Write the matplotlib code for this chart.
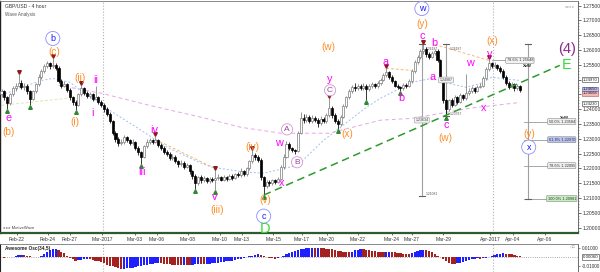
import matplotlib
matplotlib.use('Agg')
import matplotlib.pyplot as plt
import matplotlib.transforms as mtransforms
from matplotlib.patches import Rectangle
import numpy as np

plt.rcParams['font.family'] = ['Liberation Sans', 'DejaVu Sans']

# ---------------- data ----------------
first_open = 1.2450
closes = [1.2460, 1.2440, 1.2420, 1.2450, 1.2470, 1.2480, 1.2490, 1.2475, 1.2480, 1.2460,
          1.2435, 1.2460, 1.2485, 1.2510, 1.2530, 1.2545, 1.2555, 1.2545, 1.2550, 1.2540,
          1.2495, 1.2480, 1.2485, 1.2465, 1.2440, 1.2425, 1.2415, 1.2450, 1.2470, 1.2455,
          1.2445, 1.2450, 1.2435, 1.2440, 1.2425, 1.2415, 1.2400, 1.2385, 1.2360, 1.2320,
          1.2300, 1.2285, 1.2290, 1.2305, 1.2295, 1.2285, 1.2290, 1.2270, 1.2255, 1.2240,
          1.2275, 1.2290, 1.2295, 1.2290, 1.2295, 1.2280, 1.2270, 1.2255, 1.2250, 1.2235,
          1.2240, 1.2225, 1.2215, 1.2220, 1.2205, 1.2210, 1.2190, 1.2175, 1.2150, 1.2170,
          1.2160, 1.2168, 1.2158, 1.2165, 1.2160, 1.2168, 1.2172, 1.2162, 1.2170, 1.2165,
          1.2175, 1.2168, 1.2180, 1.2178, 1.2190, 1.2180, 1.2200, 1.2225, 1.2245, 1.2238,
          1.2230, 1.2170, 1.2140, 1.2155, 1.2150, 1.2160, 1.2155, 1.2165, 1.2205, 1.2240,
          1.2282, 1.2268, 1.2262, 1.2258, 1.2320, 1.2370, 1.2365, 1.2375, 1.2360, 1.2372,
          1.2365, 1.2355, 1.2368, 1.2360, 1.2380, 1.2405, 1.2380, 1.2360, 1.2350, 1.2375,
          1.2410, 1.2440, 1.2460, 1.2475, 1.2470, 1.2480, 1.2472, 1.2480, 1.2468, 1.2478,
          1.2485, 1.2478, 1.2488, 1.2500, 1.2515, 1.2525, 1.2510, 1.2495, 1.2480, 1.2475,
          1.2470, 1.2482, 1.2478, 1.2495, 1.2530, 1.2560, 1.2575, 1.2595, 1.2605, 1.2585,
          1.2578, 1.2590, 1.2598, 1.2565, 1.2500, 1.2430, 1.2400, 1.2430, 1.2415, 1.2440,
          1.2425, 1.2448, 1.2438, 1.2455, 1.2462, 1.2470, 1.2462, 1.2475, 1.2480, 1.2505,
          1.2535, 1.2555, 1.2545, 1.2550, 1.2540, 1.2530, 1.2510, 1.2490, 1.2475, 1.2485,
          1.2470, 1.2478, 1.2465]
highs = [1.2468, 1.2466, 1.2446, 1.2455, 1.2478, 1.2490, 1.2518, 1.2497, 1.2488, 1.2485,
         1.2464, 1.2466, 1.2490, 1.2518, 1.2536, 1.2552, 1.2563, 1.2560, 1.2572, 1.2556,
         1.2545, 1.2502, 1.2494, 1.2490, 1.2470, 1.2446, 1.2430, 1.2456, 1.2482, 1.2474,
         1.2460, 1.2458, 1.2454, 1.2480, 1.2446, 1.2430, 1.2420, 1.2406, 1.2390, 1.2365,
         1.2326, 1.2305, 1.2298, 1.2312, 1.2310, 1.2300, 1.2298, 1.2294, 1.2276, 1.2260,
         1.2280, 1.2298, 1.2302, 1.2300, 1.2308, 1.2300, 1.2286, 1.2275, 1.2262, 1.2256,
         1.2248, 1.2245, 1.2230, 1.2228, 1.2226, 1.2218, 1.2214, 1.2195, 1.2180, 1.2176,
         1.2178, 1.2175, 1.2172, 1.2172, 1.2170, 1.2195, 1.2180, 1.2176, 1.2177, 1.2175,
         1.2182, 1.2180, 1.2186, 1.2188, 1.2200, 1.2195, 1.2206, 1.2230, 1.2262, 1.2252,
         1.2244, 1.2234, 1.2176, 1.2162, 1.2160, 1.2166, 1.2165, 1.2172, 1.2210, 1.2248,
         1.2292, 1.2288, 1.2274, 1.2266, 1.2326, 1.2392, 1.2385, 1.2384, 1.2380, 1.2382,
         1.2378, 1.2370, 1.2376, 1.2374, 1.2388, 1.2438, 1.2410, 1.2386, 1.2366, 1.2380,
         1.2416, 1.2446, 1.2468, 1.2482, 1.2488, 1.2486, 1.2485, 1.2488, 1.2484, 1.2484,
         1.2492, 1.2490, 1.2494, 1.2506, 1.2522, 1.2540, 1.2530, 1.2514, 1.2500, 1.2486,
         1.2480, 1.2488, 1.2490, 1.2502, 1.2536, 1.2566, 1.2584, 1.2602, 1.2619, 1.2610,
         1.2592, 1.2596, 1.2605, 1.2602, 1.2570, 1.2505, 1.2436, 1.2436, 1.2438, 1.2448,
         1.2446, 1.2455, 1.2452, 1.2520, 1.2470, 1.2478, 1.2476, 1.2482, 1.2488, 1.2512,
         1.2542, 1.2568, 1.2560, 1.2558, 1.2554, 1.2546, 1.2535, 1.2515, 1.2495, 1.2492,
         1.2490, 1.2485, 1.2482]
lows = [1.2442, 1.2432, 1.2400, 1.2414, 1.2445, 1.2463, 1.2474, 1.2468, 1.2466, 1.2452,
        1.2415, 1.2430, 1.2455, 1.2480, 1.2502, 1.2522, 1.2538, 1.2536, 1.2540, 1.2532,
        1.2488, 1.2472, 1.2474, 1.2458, 1.2432, 1.2415, 1.2397, 1.2410, 1.2444, 1.2448,
        1.2438, 1.2437, 1.2428, 1.2430, 1.2418, 1.2408, 1.2392, 1.2378, 1.2352, 1.2312,
        1.2290, 1.2276, 1.2278, 1.2284, 1.2288, 1.2278, 1.2280, 1.2262, 1.2246, 1.2215,
        1.2235, 1.2270, 1.2284, 1.2282, 1.2285, 1.2274, 1.2262, 1.2248, 1.2242, 1.2228,
        1.2230, 1.2218, 1.2206, 1.2208, 1.2198, 1.2200, 1.2182, 1.2166, 1.2130, 1.2145,
        1.2152, 1.2155, 1.2150, 1.2152, 1.2153, 1.2128, 1.2162, 1.2156, 1.2158, 1.2158,
        1.2160, 1.2162, 1.2164, 1.2170, 1.2172, 1.2174, 1.2176, 1.2195, 1.2220, 1.2230,
        1.2222, 1.2162, 1.2110, 1.2135, 1.2142, 1.2145, 1.2148, 1.2150, 1.2160, 1.2198,
        1.2235, 1.2262, 1.2255, 1.2250, 1.2254, 1.2315, 1.2355, 1.2358, 1.2352, 1.2354,
        1.2356, 1.2340, 1.2348, 1.2352, 1.2355, 1.2375, 1.2372, 1.2352, 1.2333, 1.2345,
        1.2370, 1.2404, 1.2434, 1.2454, 1.2462, 1.2464, 1.2465, 1.2466, 1.2432, 1.2462,
        1.2472, 1.2470, 1.2472, 1.2482, 1.2494, 1.2508, 1.2502, 1.2488, 1.2474, 1.2468,
        1.2462, 1.2466, 1.2470, 1.2474, 1.2490, 1.2524, 1.2552, 1.2568, 1.2588, 1.2578,
        1.2570, 1.2572, 1.2584, 1.2558, 1.2492, 1.2420, 1.2379, 1.2394, 1.2408, 1.2410,
        1.2418, 1.2420, 1.2430, 1.2432, 1.2448, 1.2455, 1.2455, 1.2458, 1.2470, 1.2475,
        1.2500, 1.2528, 1.2538, 1.2540, 1.2532, 1.2522, 1.2502, 1.2482, 1.2468, 1.2470,
        1.2462, 1.2465, 1.2458]

ao = [-0.0005, -0.0006, -0.0004, -0.0002,
      0.0005, 0.0012, 0.0018, 0.0020, 0.0017, 0.0013,
      0.0008, 0.0004, 0.0002, 0.0001,
      0.0015, 0.0035, 0.0055, 0.0072, 0.0085, 0.0090,
      0.0080, 0.0060, 0.0040, 0.0015,
      -0.0010, -0.0028, -0.0040, -0.0038,
      -0.0030, -0.0022, -0.0020, -0.0025,
      -0.0032, -0.0040, -0.0050, -0.0060, -0.0072, -0.0085, -0.0095, -0.0105, -0.0115, -0.0125, -0.0132,
      -0.0130, -0.0126, -0.0122, -0.0118, -0.0112, -0.0105, -0.0098, -0.0092, -0.0085, -0.0080, -0.0075, -0.0070, -0.0068,
      -0.0072, -0.0076, -0.0080, -0.0083, -0.0085, -0.0087, -0.0088, -0.0089, -0.0088, -0.0090, -0.0091,
      -0.0086, -0.0080, -0.0076,
      -0.0079, -0.0082, -0.0080,
      -0.0076, -0.0072, -0.0068, -0.0064, -0.0060, -0.0055, -0.0050, -0.0046, -0.0040, -0.0034, -0.0028, -0.0020, -0.0012,
      -0.0004, 0.0006, 0.0016, 0.0026, 0.0032,
      0.0025, 0.0012, 0.0000, -0.0010, -0.0016, -0.0020,
      -0.0012, -0.0002, 0.0012, 0.0028, 0.0042, 0.0055, 0.0066, 0.0075, 0.0084,
      0.0090, 0.0095, 0.0098, 0.0100, 0.0098, 0.0100, 0.0099, 0.0096, 0.0094, 0.0090,
      0.0085, 0.0078, 0.0070, 0.0062, 0.0056, 0.0052, 0.0050,
      0.0060, 0.0072, 0.0082, 0.0088,
      0.0085, 0.0080, 0.0074, 0.0068, 0.0062, 0.0056, 0.0052, 0.0050,
      0.0054, 0.0058, 0.0055, 0.0050,
      0.0045, 0.0040, 0.0036, 0.0032, 0.0030,
      0.0040, 0.0055, 0.0068, 0.0078, 0.0082,
      0.0076, 0.0064, 0.0050, 0.0034, 0.0016,
      -0.0004, -0.0025, -0.0045, -0.0062, -0.0074, -0.0080,
      -0.0072, -0.0062, -0.0052, -0.0042, -0.0034, -0.0026,
      -0.0020, -0.0016, -0.0018, -0.0012, -0.0008, -0.0004,
      0.0008, 0.0020, 0.0030, 0.0036, 0.0040,
      0.0038, 0.0034, 0.0028, 0.0020, 0.0012, 0.0006]

# moving averages (sampled at candle indices)
ma_fast_idx = [0, 6, 14, 18, 24, 29, 38, 49, 58, 70, 74, 86, 92, 104, 113, 128, 133, 144, 151, 157, 163, 168, 172, 182]
ma_fast_val = [1.2447, 1.2470, 1.2497, 1.2504, 1.2491, 1.2454, 1.2396, 1.2329, 1.2272, 1.2218, 1.2204, 1.2187,
               1.2184, 1.2211, 1.2295, 1.2406, 1.2437, 1.2491, 1.2504, 1.2487, 1.2474, 1.2487, 1.2508, 1.2497]
ma_slow_idx = [20, 35, 52, 70, 84, 98, 115, 133, 144, 164, 182]
ma_slow_val = [1.2481, 1.2454, 1.2413, 1.2373, 1.2339, 1.2319, 1.2319, 1.2363, 1.2369, 1.2403, 1.2423]

# price axis labels (two are hidden behind the value boxes in the reference)
price_ticks = [1.200, 1.205, 1.210, 1.215, 1.220, 1.225, 1.230, 1.235, 1.240, 1.245, 1.250,
               1.255, 1.260, 1.265, 1.270, 1.275]
hidden_price_labels = [1.245, 1.250]

# date axis
date_ticks = [5.4, 16.3, 24.0, 35.3, 46.8, 54.6, 65.4, 76.7, 84.4, 95.3, 105.4, 114.2, 125.1, 137.0,
              144.0, 155.0, 171.4, 179.5, 190.7]
date_labels = ['Feb-22', 'Feb-24', 'Feb-27', 'Mar-2017', 'Mar-03', 'Mar-06', 'Mar-08', 'Mar-10', 'Mar-13',
               'Mar-15', 'Mar-17', 'Mar-20', 'Mar-22', 'Mar-24', 'Mar-27', 'Mar-29', 'Apr-2017', 'Apr-04', 'Apr-06']
month_starts = [35.5, 172.5]

# wave labels (text, candle index, price)
blue_circled = [('b', 18.0, 1.2639), ('w', 147.5, 1.2740), ('c', 92.0, 1.2039), ('x', 185.0, 1.2272)]
orange_labels = [('(c)', 18.4, 1.2592), ('(b)', 2.6, 1.2322), ('(ii)', 27.5, 1.2504), ('(i)', 25.8, 1.2356),
                 ('(iii)', 75.6, 1.2059), ('(iv)', 88.2, 1.2272), ('(v)', 92.5, 1.2093), ('(w)', 114.6, 1.2609),
                 ('(x)', 121.2, 1.2315), ('(y)', 147.5, 1.2689), ('(w)', 155.6, 1.2302), ('(x)', 172.1, 1.2632),
                 ('(y)', 185.1, 1.2315)]
magenta_labels = [('e', 2.6, 1.2369), ('ii', 33.2, 1.2497), ('i', 32.1, 1.2386), ('iii', 49.3, 1.2187),
                  ('iv', 53.5, 1.2329), ('v', 74.9, 1.2103), ('w', 97.4, 1.2285), ('x', 98.4, 1.2150),
                  ('y', 115.3, 1.2501), ('a', 134.9, 1.2561), ('b', 140.2, 1.2437), ('c', 147.5, 1.2646),
                  ('b', 151.8, 1.2622), ('a', 151.1, 1.2508), ('c', 156.0, 1.2346), ('w', 164.4, 1.2555),
                  ('y', 171.4, 1.2588), ('x', 169.3, 1.2403)]
purple_circled = [('A', 100.2, 1.2332), ('B', 103.7, 1.2221), ('C', 115.3, 1.2464)]
big_labels = [('(4)', 198.4, 1.2602, '#8b2a8b'), ('E', 198.4, 1.2550, '#33dd33'), ('D', 92.5, 1.1996, '#33dd33')]

low_marks = [2, 10, 26, 49, 68, 75, 92, 118, 128, 140, 156]
high_marks = [6, 18, 28, 54, 75, 88, 115, 135, 148, 171]

# trend line and guide lines (candle index, price)
trend_x = [92, 195.9]
trend_y = [1.2110, 1.2548]
guides_orange = [((54, 1.2298), (74, 1.2204)), ((135, 1.2538), (144, 1.2531)), ((152, 1.2619), (171, 1.2565))]
guide_pale = ((0, 1.2413), (23, 1.2437))

# measurement brackets
fib_x = 184.7
fib_top = 1.26187
fib_bottom = 1.20981
fib_levels = [0.5, 0.618, 0.786, 1.0]
fib_colors = ['#eeeeee', '#b9c3f2', '#eeeeee', '#c6efc0']
fib_box_x = 196.6
measure_lines = [(147.5, 1.26187, 1.21081), (156.0, 1.26187, 1.23787)]
retr_label = ('78.6% 1.25648', 172.1, 181.9, 1.2565)

# ---------------- figure ----------------
fig = plt.figure(figsize=(6.0, 2.72), dpi=100)
ax = fig.add_axes([0.0, 1 - 233 / 272, 578 / 600, 233 / 272 - 0.002])
osc = fig.add_axes([0.0, 0.0, 578 / 600, 28 / 272], sharex=ax)

opens = [first_open] + closes[:-1]

ax.set_xlim(-0.53, 202.3)
ax.set_ylim(1.1982, 1.2767)

# guide lines (behind candles)
ax.plot(ma_slow_idx, ma_slow_val, color='#e6a8e6', lw=0.7, ls=(0, (4, 3)), zorder=1)
ax.plot(ma_fast_idx, ma_fast_val, color='#9ec0f0', lw=0.7, ls=(0, (2, 2)), zorder=1)
for (a, b) in guides_orange:
    ax.plot([a[0], b[0]], [a[1], b[1]], color='#f5b87a', lw=0.7, ls=(0, (3, 2)), zorder=1)
ax.plot([guide_pale[0][0], guide_pale[1][0]], [guide_pale[0][1], guide_pale[1][1]],
        color='#e0e6b0', lw=0.7, ls=(0, (3, 2)), zorder=1)
for m in month_starts:
    ax.axvline(m, color='#b0b0b0', ls=':', lw=0.8, zorder=0)
    osc.axvline(m, color='#b0b0b0', ls=':', lw=0.8, zorder=0)

# measurement lines
for (mx, top, bot) in measure_lines:
    ax.plot([mx, mx], [bot, top], color='#a0a0a0', lw=0.8, zorder=2)
    ax.plot([mx - 1.0, mx + 1.0], [top, top], color='#606060', lw=0.8, zorder=2)
    ax.plot([mx - 1.0, mx + 1.0], [bot, bot], color='#606060', lw=0.8, zorder=2)
    ax.text(mx + 1.3, top - 0.0016, f'{top:.5f}', fontsize=2.4, color='#555555', va='center', ha='left')
    ax.text(mx + 1.3, bot + 0.0004, f'{bot:.5f}', fontsize=2.4, color='#555555', va='center', ha='left')
    ax.text(mx, (top + bot) / 2, f'{(top + bot) / 2:.5f}', fontsize=2.6, color='#444444', ha='center',
            va='center', zorder=6, bbox=dict(boxstyle='round,pad=0.25', fc='#f2f2f2', ec='#999999', lw=0.4))

# fib bracket
ax.plot([fib_x, fib_x], [fib_bottom, fib_top], color='#a0a0a0', lw=0.8, zorder=2)
ax.plot([fib_x - 1.0, fib_x + 1.0], [fib_top, fib_top], color='#606060', lw=0.8, zorder=2)
for lvl, fc in zip(fib_levels, fib_colors):
    p = fib_top - lvl * (fib_top - fib_bottom)
    ax.plot([fib_x - 1.5, fib_box_x - 4.5], [p, p], color='#999999', lw=0.6, zorder=2)
    ax.text(fib_box_x, p, f'{lvl * 100:.1f}% {p:.5f}', fontsize=2.8, color='#333333', ha='center',
            va='center', zorder=6, bbox=dict(boxstyle='round,pad=0.25', fc=fc, ec='#888888', lw=0.4))
ax.plot([fib_x - 1.0, fib_x + 1.0], [fib_bottom, fib_bottom], color='#606060', lw=0.8, zorder=2)
p50 = fib_top - 0.5 * (fib_top - fib_bottom)
ax.text(fib_box_x + 1.0, p50 + 0.0013, 'XvW', fontsize=3.0, color='#222222', ha='center', va='center',
        fontweight='bold')
rt, rx0, rx1, rp = retr_label
ax.plot([rx0, rx1 - 4.5], [rp, rp], color='#999999', lw=0.6, zorder=2)
ax.text(rx1, rp, rt, fontsize=2.8, color='#333333', ha='center', va='center', zorder=6,
        bbox=dict(boxstyle='round,pad=0.25', fc='#f2f2f2', ec='#888888', lw=0.4))
ax.text(rx1 + 2.5, rp - 0.0019, 'XvW', fontsize=3.0, color='#222222', ha='center', va='center',
        fontweight='bold')

# trend line
ax.plot(trend_x, trend_y, color='#2e9a2e', lw=1.1, ls=(0, (5, 3)), zorder=5)

# candles
for i, (o, h, l, c) in enumerate(zip(opens, highs, lows, closes)):
    bull = c >= o
    col = '#7a7a7a' if bull else '#000000'
    ax.vlines(i, l, h, color=col, lw=0.55, zorder=3)
    bot = min(o, c)
    hgt = max(abs(c - o), 0.00009)
    ax.add_patch(Rectangle((i - 0.36, bot), 0.72, hgt, facecolor='white' if bull else 'black',
                           edgecolor=col, lw=0.5, zorder=4))

# markers
tr_dn = mtransforms.offset_copy(ax.transData, fig=fig, x=0, y=-1.6, units='points')
tr_up = mtransforms.offset_copy(ax.transData, fig=fig, x=0, y=1.6, units='points')
ax.plot(low_marks, [lows[i] for i in low_marks], ls='none', marker='^', ms=2.6, color='#2f8a2f',
        transform=tr_dn, zorder=5)
ax.plot(high_marks, [highs[i] for i in high_marks], ls='none', marker='v', ms=2.6, color='#8b1c1c',
        transform=tr_up, zorder=5)

# wave labels
for t, x, y in orange_labels:
    ax.text(x, y, t, color='#ff8c24', fontsize=7.2, ha='center', va='center', zorder=7)
for t, x, y in magenta_labels:
    ax.text(x, y, t, color='#ff00ff', fontsize=7.8, ha='center', va='center', zorder=7)
for t, x, y in blue_circled:
    ax.text(x, y, t, color='#1a1aff', fontsize=6.5, ha='center', va='center', zorder=7,
            bbox=dict(boxstyle='circle,pad=0.28', fc='white', ec='#8c8cff', lw=0.6))
for t, x, y in purple_circled:
    ax.text(x, y, t, color='#a040a0', fontsize=6.0, ha='center', va='center', zorder=7,
            bbox=dict(boxstyle='circle,pad=0.25', fc='white', ec='#cf9acf', lw=0.6))
for t, x, y, col in big_labels:
    ax.text(x, y, t, color=col, fontsize=10.5, ha='center', va='center', zorder=7)

# titles
ax.text(0.008, 0.985, 'GBP/USD - 4 hour', transform=ax.transAxes, fontsize=3.6, color='#333333',
        va='top', ha='left')
ax.text(0.008, 0.95, 'Wave Analysis', transform=ax.transAxes, fontsize=3.3, color='#555555',
        va='top', ha='left')
ax.text(0.005, 0.012, '\u25cb\u25cb\u25cb MotiveWave', transform=ax.transAxes, fontsize=3.0,
        color='#444444', va='bottom', ha='left')
ax.text(0.995, 0.985, '\u25cb\u25cb\u25cb\u25cb', transform=ax.transAxes, fontsize=3.0, color='#999999',
        va='top', ha='right')

# right price axis
ax.yaxis.tick_right()
ax.set_yticks(price_ticks)
ax.set_yticklabels(['' if any(abs(v - h) < 1e-9 for h in hidden_price_labels) else f'{v:.5f}'
                    for v in price_ticks])
ax.set_yticks(np.arange(1.199, 1.2765, 0.001), minor=True)
ax.tick_params(axis='y', which='major', labelsize=3.6, length=2.0, width=0.5, pad=1.2,
               colors='#333333')
ax.tick_params(axis='y', which='minor', length=1.0, width=0.4, colors='#555555')

# current value boxes
last_fast = ma_fast_val[-1]
last_slow = ma_slow_val[-1]
btrans = mtransforms.blended_transform_factory(ax.transAxes, ax.transData)
ax.text(1.008, last_fast + 0.0002, f'{last_fast:.5f}', transform=btrans, fontsize=3.0, color='#222222',
        va='center', ha='left', bbox=dict(boxstyle='square,pad=0.12', fc='white', ec='#333333', lw=0.4))
ax.text(1.008, closes[-1] + 0.0003, f'{closes[-1]:.5f}', transform=btrans, fontsize=3.0, color='#222222',
        va='center', ha='left', bbox=dict(boxstyle='square,pad=0.1', fc='#b8b8f0', ec='#5555aa', lw=0.4))
ax.text(1.008, closes[-1] - 0.0011, f'{closes[-1] + 0.00018:.5f}', transform=btrans, fontsize=3.0,
        color='#222222', va='center', ha='left',
        bbox=dict(boxstyle='square,pad=0.1', fc='#f0b8b8', ec='#aa5555', lw=0.4))
ax.text(1.008, last_slow - 0.0004, f'{last_slow:.5f}', transform=btrans, fontsize=3.0, color='#222222',
        va='center', ha='left', bbox=dict(boxstyle='square,pad=0.12', fc='white', ec='#333333', lw=0.4))

# date axis
ax.set_xticks(date_ticks)
ax.set_xticklabels(date_labels)
ax.tick_params(axis='x', labelsize=3.6, length=1.5, width=0.5, pad=1.5, colors='#333333')

ax.spines['top'].set_color('#777777')
ax.spines['top'].set_linewidth(0.6)
ax.spines['left'].set_color('#222222')
ax.spines['left'].set_linewidth(1.0)
ax.spines['right'].set_color('#555555')
ax.spines['right'].set_linewidth(0.6)
ax.spines['bottom'].set_color('#2f5a2f')
ax.spines['bottom'].set_linewidth(1.6)

# oscillator
osc.set_ylim(-0.0167, 0.0144)
ao_colors = ['#1f1fff' if (i == 0 or v >= ao[i - 1]) else '#a3211f' for i, v in enumerate(ao)]
osc.axhline(0, color='#888888', ls=':', lw=0.6, zorder=0)
osc.bar(range(len(ao)), ao, width=0.8, color=ao_colors, zorder=2)
osc.yaxis.tick_right()
osc.set_yticks([-0.01, 0.01])
osc.set_yticklabels(['-0.01000', '0.01000'])
osc.tick_params(axis='y', labelsize=3.4, length=1.5, width=0.4, pad=1.2, colors='#333333')
osc.tick_params(axis='x', bottom=False, labelbottom=False)
osc.text(1.008, 0, f'{ao[-1]:.5f}', transform=mtransforms.blended_transform_factory(osc.transAxes, osc.transData),
         fontsize=3.2, color='#222222', va='center', ha='left',
         bbox=dict(boxstyle='square,pad=0.2', fc='white', ec='#333333', lw=0.4))
osc.text(0.008, 0.93, 'Awesome Osc(34,5)', transform=osc.transAxes, fontsize=3.4, color='#222222',
         va='top', ha='left', fontweight='bold')
osc.text(0.995, 0.93, '\u25c7\u25a1', transform=osc.transAxes, fontsize=3.0, color='#999999',
         va='top', ha='right')
osc.spines['top'].set_color('#777777')
osc.spines['top'].set_linewidth(0.6)
osc.spines['left'].set_color('#222222')
osc.spines['right'].set_color('#555555')
osc.spines['right'].set_linewidth(0.6)
osc.spines['bottom'].set_visible(False)

fig.savefig('out.png', dpi=100)
